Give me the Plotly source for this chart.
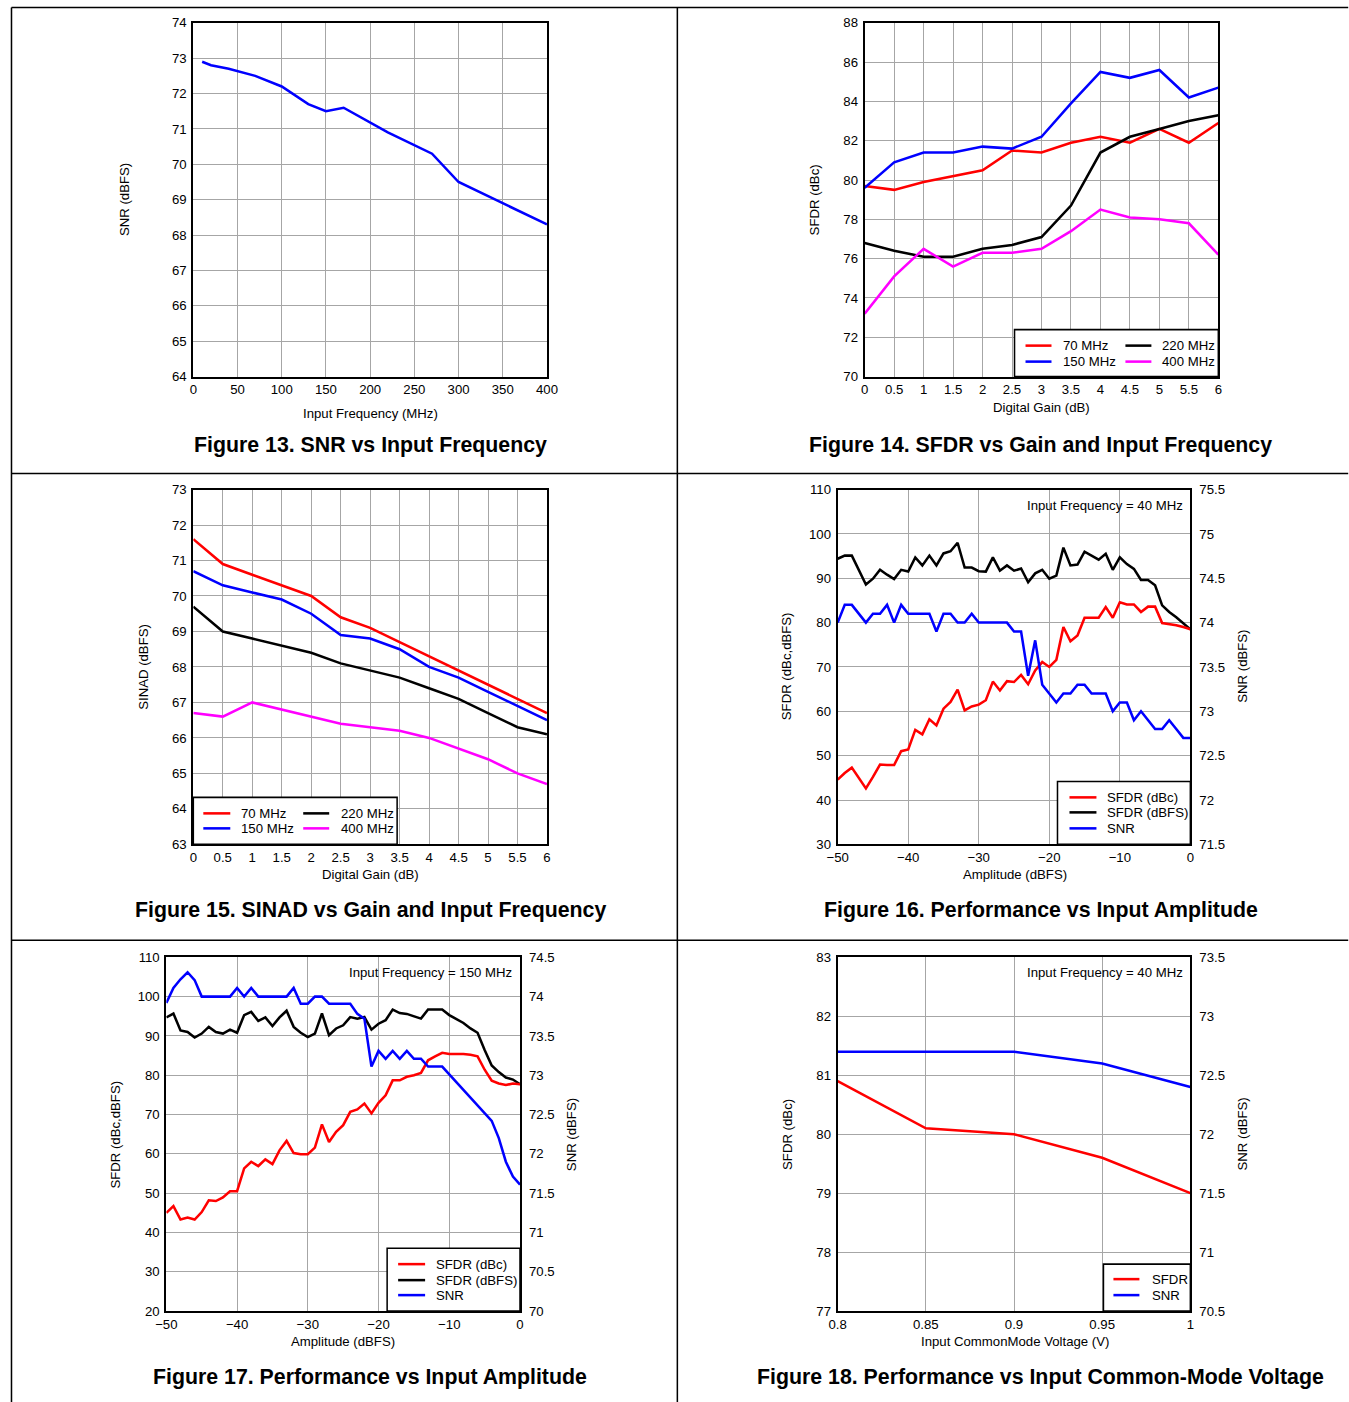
import plotly.graph_objects as go

FONT = "Liberation Sans, Arial, sans-serif"

# ---------------- data ----------------
# Figure 13
f13_freq = [10, 20, 40, 70, 100, 130, 150, 170, 220, 270, 300, 400]
f13_snr = [72.9, 72.8, 72.7, 72.5, 72.2, 71.7, 71.5, 71.6, 70.9, 70.3, 69.5, 68.3]

# Figure 14 / 15 (digital gain)
gain = [0, 0.5, 1, 1.5, 2, 2.5, 3, 3.5, 4, 4.5, 5, 5.5, 6]
f14_70 = [79.7, 79.5, 79.9, 80.2, 80.5, 81.5, 81.4, 81.9, 82.2, 81.9, 82.6, 81.9, 82.9]
f14_150 = [79.6, 80.9, 81.4, 81.4, 81.7, 81.6, 82.2, 83.9, 85.5, 85.2, 85.6, 84.2, 84.7]
f14_220 = [76.8, 76.4, 76.1, 76.1, 76.5, 76.7, 77.1, 78.7, 81.4, 82.2, 82.6, 83.0, 83.3]
f14_400 = [73.2, 75.1, 76.5, 75.6, 76.3, 76.3, 76.5, 77.4, 78.5, 78.1, 78.0, 77.8, 76.2]

f15_70 = [71.6, 70.9, 70.6, 70.3, 70.0, 69.4, 69.1, 68.7, 68.3, 67.9, 67.5, 67.1, 66.7]
f15_150 = [70.7, 70.3, 70.1, 69.9, 69.5, 68.9, 68.8, 68.5, 68.0, 67.7, 67.3, 66.9, 66.5]
f15_220 = [69.7, 69.0, 68.8, 68.6, 68.4, 68.1, 67.9, 67.7, 67.4, 67.1, 66.7, 66.3, 66.1]
f15_400 = [66.7, 66.6, 67.0, 66.8, 66.6, 66.4, 66.3, 66.2, 66.0, 65.7, 65.4, 65.0, 64.7]

# Figure 16 / 17 (amplitude sweep)
amplitude = [-50, -49, -48, -47, -46, -45, -44, -43, -42, -41,
             -40, -39, -38, -37, -36, -35, -34, -33, -32, -31,
             -30, -29, -28, -27, -26, -25, -24, -23, -22, -21,
             -20, -19, -18, -17, -16, -15, -14, -13, -12, -11,
             -10, -9, -8, -7, -6, -5, -4, -3, -2, -1, 0]

f16_sfdr_dbc = [44.6, 46.1, 47.3, 44.9, 42.6, 45.2, 48.0, 47.9, 47.9, 51.0,
                51.4, 55.8, 54.8, 58.2, 56.8, 60.6, 62.1, 64.9, 60.2, 61.1,
                61.5, 62.5, 66.7, 64.7, 66.8, 66.6, 68.2, 66.1, 69.2, 71.1,
                70.0, 71.6, 79.0, 75.8, 77.1, 81.1, 81.1, 81.1, 83.5, 81.1,
                84.6, 84.1, 84.1, 82.4, 83.6, 83.6, 79.9, 79.7, 79.4, 79.0, 78.5]
f16_sfdr_dbfs = [94.4, 95.1, 95.1, 91.9, 88.6, 89.9, 91.9, 90.8, 89.8, 91.9,
                 91.5, 94.7, 92.9, 95.1, 92.9, 95.6, 96.1, 98.0, 92.4, 92.4,
                 91.6, 91.5, 94.7, 91.7, 92.9, 91.7, 92.2, 89.1, 91.1, 91.9,
                 89.9, 90.6, 96.9, 92.9, 93.1, 96.0, 95.1, 94.2, 95.5, 91.9,
                 94.7, 93.2, 92.1, 89.6, 89.6, 88.4, 83.9, 82.4, 81.2, 79.9, 78.5]
f16_snr = [74.0, 74.2, 74.2, 74.1, 74.0, 74.1, 74.1, 74.2, 74.0, 74.2,
           74.1, 74.1, 74.1, 74.1, 73.9, 74.1, 74.1, 74.0, 74.0, 74.1,
           74.0, 74.0, 74.0, 74.0, 74.0, 73.9, 73.9, 73.4, 73.8, 73.3,
           73.2, 73.1, 73.2, 73.2, 73.3, 73.3, 73.2, 73.2, 73.2, 73.0,
           73.1, 73.1, 72.9, 73.0, 72.9, 72.8, 72.8, 72.9, 72.8, 72.7, 72.7]

f17_sfdr_dbc = [45.0, 46.7, 43.3, 43.8, 43.3, 45.2, 48.2, 48.0, 48.9, 50.5,
                50.5, 56.3, 58.0, 56.9, 58.6, 57.4, 60.9, 63.3, 60.2, 59.9,
                59.9, 61.6, 67.5, 63.0, 65.6, 67.3, 70.7, 71.3, 72.8, 70.3,
                73.0, 74.9, 78.7, 78.7, 79.6, 80.0, 80.6, 83.8, 84.8, 85.7,
                85.4, 85.4, 85.4, 85.2, 84.8, 81.4, 78.6, 77.9, 77.5, 77.9, 77.7]
f17_sfdr_dbfs = [94.7, 95.7, 91.4, 91.0, 89.6, 90.6, 92.3, 91.0, 90.6, 91.6,
                 90.8, 95.3, 96.1, 93.8, 94.7, 92.5, 94.7, 96.4, 92.3, 90.8,
                 89.7, 90.6, 95.7, 90.2, 91.9, 92.7, 94.8, 94.4, 94.8, 91.6,
                 93.1, 94.0, 96.7, 95.8, 95.6, 95.0, 94.4, 96.7, 96.7, 96.7,
                 95.3, 94.4, 93.3, 91.9, 90.8, 86.4, 82.5, 80.8, 79.4, 78.9, 77.7]
f17_snr = [73.92, 74.11, 74.22, 74.31, 74.21, 74.0, 74.0, 74.0, 74.0, 74.0,
           74.11, 74.0, 74.11, 74.0, 74.0, 74.0, 74.0, 74.0, 74.11, 73.91,
           73.91, 74.0, 74.0, 73.91, 73.91, 73.91, 73.91, 73.78, 73.72, 73.11,
           73.31, 73.21, 73.31, 73.21, 73.31, 73.21, 73.21, 73.11, 73.11, 73.11,
           73.01, 72.91, 72.81, 72.72, 72.62, 72.52, 72.42, 72.2, 71.9, 71.71, 71.61]

# Figure 18
vcm = [0.8, 0.85, 0.9, 0.95, 1.0]
f18_sfdr = [80.9, 80.1, 80.0, 79.6, 79.0]
f18_snr = [72.7, 72.7, 72.7, 72.6, 72.4]

RED, BLUE, BLACK, MAG = "#ff0000", "#0000ff", "#000000", "#ff00ff"

# ---------------- layout helpers ----------------
# figure canvas size and the screen-to-canvas correction measured from renders
FW, FH = 1362, 1412
SX, OX = 0.9848, 10.5
SY, OY = 0.9899, 6.2
K = 1 / SX  # size compensation for fonts / strokes


def fx(r):
    return (r - OX) / SX


def fy(r):
    return (r - OY) / SY


def px(r):
    return min(max(fx(r), 0.5), FW - 0.5) / FW


def py(r):
    return 1 - min(max(fy(r), 0.5), FH - 0.5) / FH


panels = {
    1: (193, 547, 22, 376),
    2: (865, 1219, 22, 376),
    3: (193, 547, 489, 844),
    4: (838, 1191, 489, 844),
    5: (166, 520, 957, 1311),
    6: (838, 1191, 957, 1311),
}

TICKFONT = dict(family=FONT, size=13 * K, color="black")


def base_axis(**kw):
    d = dict(showline=True, linecolor="black", linewidth=2 * K, mirror=True,
             showgrid=True, gridcolor="#a6a6a6", gridwidth=1, zeroline=False,
             ticks="", tickfont=TICKFONT, fixedrange=True)
    d.update(kw)
    return d


layout = dict(
    width=FW, height=FH, margin=dict(l=0, r=0, t=0, b=0), autosize=False,
    paper_bgcolor="white", plot_bgcolor="white", showlegend=False,
    font=dict(family=FONT, size=13 * K, color="black"),
)

xranges = {1: ([0, 400], 50), 2: ([0, 6], 0.5), 3: ([0, 6], 0.5),
           4: ([-50, 0], 10), 5: ([-50, 0], 10), 6: ([0.8, 1.0], 0.05)}
yranges = {1: ([64, 74], 1), 2: ([70, 88], 2), 3: ([63, 73], 1),
           4: ([30, 110], 10), 5: ([20, 110], 10), 6: ([77, 83], 1)}

for i, (x0, x1, y0, y1) in panels.items():
    sx = "" if i == 1 else str(i)
    xr, xd = xranges[i]
    yr, yd = yranges[i]
    layout["xaxis" + sx] = base_axis(domain=[px(x0), px(x1)], range=xr, dtick=xd,
                                     tick0=xr[0], anchor="y" + sx)
    layout["yaxis" + sx] = base_axis(domain=[py(y1), py(y0)], range=yr, dtick=yd,
                                     tick0=yr[0], anchor="x" + sx, ticklabelstandoff=2)

# secondary (right) axes
right = {7: (4, [71.5, 75.5]), 8: (5, [70, 74.5]), 9: (6, [70.5, 73.5])}
for k, (p, rr) in right.items():
    layout["yaxis%d" % k] = dict(overlaying="y%d" % p, anchor="x%d" % p, side="right",
                                 range=rr, dtick=0.5, tick0=rr[0], showgrid=False,
                                 showline=False, zeroline=False, ticks="",
                                 ticklabelstandoff=8,
                                 tickfont=TICKFONT, fixedrange=True)

fig = go.Figure()


def line(x, y, color, xa, ya, name):
    fig.add_trace(go.Scatter(x=x, y=y, mode="lines", name=name,
                             line=dict(color=color, width=2.5 * K),
                             xaxis=xa, yaxis=ya, showlegend=False))


# Fig 13
line(f13_freq, f13_snr, BLUE, "x", "y", "SNR")
# Fig 14
line(gain, f14_70, RED, "x2", "y2", "70 MHz")
line(gain, f14_150, BLUE, "x2", "y2", "150 MHz")
line(gain, f14_220, BLACK, "x2", "y2", "220 MHz")
line(gain, f14_400, MAG, "x2", "y2", "400 MHz")
# Fig 15
line(gain, f15_70, RED, "x3", "y3", "70 MHz")
line(gain, f15_150, BLUE, "x3", "y3", "150 MHz")
line(gain, f15_220, BLACK, "x3", "y3", "220 MHz")
line(gain, f15_400, MAG, "x3", "y3", "400 MHz")
# Fig 16
line(amplitude, f16_sfdr_dbfs, BLACK, "x4", "y4", "SFDR (dBFS)")
line(amplitude, f16_sfdr_dbc, RED, "x4", "y4", "SFDR (dBc)")
line(amplitude, f16_snr, BLUE, "x4", "y7", "SNR")
# Fig 17
line(amplitude, f17_sfdr_dbfs, BLACK, "x5", "y5", "SFDR (dBFS)")
line(amplitude, f17_sfdr_dbc, RED, "x5", "y5", "SFDR (dBc)")
line(amplitude, f17_snr, BLUE, "x5", "y8", "SNR")
# Fig 18
line(vcm, f18_sfdr, RED, "x6", "y6", "SFDR")
line(vcm, f18_snr, BLUE, "x6", "y9", "SNR")

shapes = []
annotations = []


def text(x, y, s, size=13, xanchor="center", yanchor="middle", angle=0, bold=False):
    annotations.append(dict(x=px(x), y=py(y), xref="paper", yref="paper",
                            text=("<b>%s</b>" % s) if bold else s, showarrow=False,
                            xanchor=xanchor, yanchor=yanchor, textangle=angle,
                            font=dict(family=FONT, size=size * K, color="black")))


def rect(x0, y0, x1, y1, layer="above", border=True):
    shapes.append(dict(type="rect", xref="paper", yref="paper",
                       x0=px(x0), x1=px(x1), y0=py(y1), y1=py(y0),
                       fillcolor="white", layer=layer,
                       line=dict(color="black" if border else "white",
                                 width=1.5 * K if border else 0)))


def seg(x0, y0, x1, y1, color, width):
    shapes.append(dict(type="line", xref="paper", yref="paper",
                       x0=px(x0), x1=px(x1), y0=py(y0), y1=py(y1),
                       line=dict(color=color, width=width * K)))


def legend(box, entries):
    rect(*box)
    for color, name, lx0, lx1, tx, y in entries:
        seg(lx0, y, lx1, y, color, 2.5)
        text(tx, y, name, size=13, xanchor="left")


# frame lines of the page
seg(7, 5, 1349, 5, "black", 1.5)
seg(7, 5, 7, 1402, "black", 1.5)
seg(677.5, 5, 677.5, 1402, "black", 1.5)
seg(7, 473, 1349, 473, "black", 1.5)
seg(7, 940, 1349, 940, "black", 1.5)

# axis titles
text(124, 199, "SNR (dBFS)", angle=-90)
text(370, 413, "Input Frequency (MHz)")
text(815, 199, "SFDR (dBc)", angle=-90)
text(1042, 407, "Digital Gain (dB)")
text(143, 666, "SINAD (dBFS)", angle=-90)
text(370, 874, "Digital Gain (dB)")
text(787, 666, "SFDR (dBc,dBFS)", angle=-90)
text(1243, 666, "SNR (dBFS)", angle=-90)
text(1015, 874, "Amplitude (dBFS)")
text(115, 1134, "SFDR (dBc,dBFS)", angle=-90)
text(571, 1134, "SNR (dBFS)", angle=-90)
text(343, 1341, "Amplitude (dBFS)")
text(787, 1134, "SFDR (dBc)", angle=-90)
text(1243, 1134, "SNR (dBFS)", angle=-90)
text(1015, 1341, "Input CommonMode Voltage (V)")

# figure captions
CAP = 21
text(370, 444, "Figure 13. SNR vs Input Frequency", size=CAP, bold=True)
text(1041, 444, "Figure 14. SFDR vs Gain and Input Frequency", size=CAP, bold=True)
text(370, 910, "Figure 15. SINAD vs Gain and Input Frequency", size=CAP, bold=True)
text(1041, 910, "Figure 16. Performance vs Input Amplitude", size=CAP, bold=True)
text(370, 1377, "Figure 17. Performance vs Input Amplitude", size=CAP, bold=True)
text(1041, 1377, "Figure 18. Performance vs Input Common-Mode Voltage", size=CAP, bold=True)

# condition notes (white patch hides grid behind the text)
rect(1025, 490, 1190, 521, layer="between", border=False)
text(1186, 505, "Input Frequency = 40 MHz", xanchor="right")
rect(345, 958, 519, 987, layer="between", border=False)
text(514, 972, "Input Frequency = 150 MHz", xanchor="right")
rect(1025, 958, 1190, 987, layer="between", border=False)
text(1186, 972, "Input Frequency = 40 MHz", xanchor="right")

# legends
legend((1015, 329, 1219, 376), [
    (RED, "70 MHz", 1026, 1052, 1062, 345),
    (BLACK, "220 MHz", 1126, 1152, 1161, 345),
    (BLUE, "150 MHz", 1026, 1052, 1062, 361),
    (MAG, "400 MHz", 1126, 1152, 1161, 361),
])
legend((193, 797, 397, 844), [
    (RED, "70 MHz", 203, 230, 239, 813),
    (BLACK, "220 MHz", 303, 329, 339, 813),
    (BLUE, "150 MHz", 203, 230, 239, 828),
    (MAG, "400 MHz", 303, 329, 339, 828),
])
legend((1058, 781, 1191, 844), [
    (RED, "SFDR (dBc)", 1070, 1097, 1106, 797),
    (BLACK, "SFDR (dBFS)", 1070, 1097, 1106, 812),
    (BLUE, "SNR", 1070, 1097, 1106, 828),
])
legend((387, 1248, 520, 1311), [
    (RED, "SFDR (dBc)", 398, 425, 434, 1264),
    (BLACK, "SFDR (dBFS)", 398, 425, 434, 1280),
    (BLUE, "SNR", 398, 425, 434, 1295),
])
legend((1104, 1264, 1191, 1311), [
    (RED, "SFDR", 1114, 1140, 1151, 1279),
    (BLUE, "SNR", 1114, 1140, 1151, 1295),
])

layout["shapes"] = shapes
layout["annotations"] = annotations
fig.update_layout(**layout)

# remove the default page margin so the figure starts at the window corner
page_css = ("document.body.style.margin='0';"
            "document.body.style.padding='0';"
            "document.body.style.overflow='hidden';"
            "document.documentElement.style.overflow='hidden';")
fig.write_html("out.html", post_script=page_css,
               config={"responsive": False, "displayModeBar": False})
